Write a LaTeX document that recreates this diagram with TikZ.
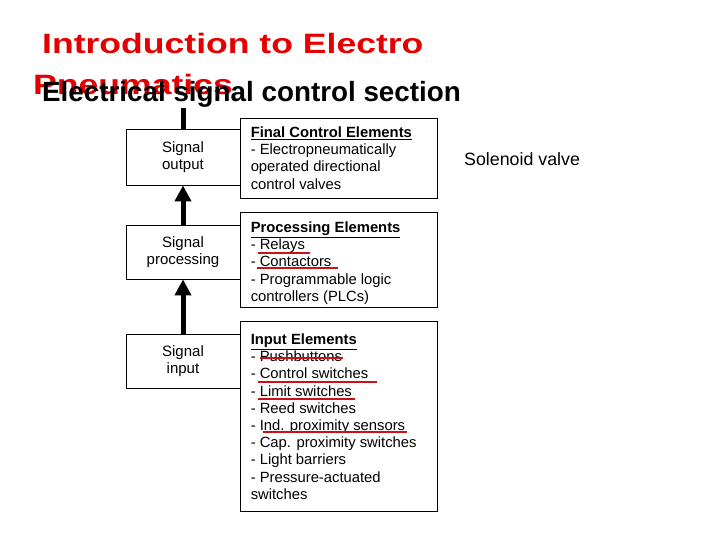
\documentclass[tikz,border=0pt]{standalone}
\usepackage{fontspec}
\setmainfont{Liberation Sans}
\usetikzlibrary{arrows.meta}
\definecolor{titlered}{RGB}{228,0,0}
\definecolor{markred}{RGB}{204,16,24}

\begin{document}
\begin{tikzpicture}[
	x=1pt, y=-1pt,
	sigbox/.style={
		draw,
		line width=0.9pt,
		minimum width=114pt,
		inner sep=0pt,
		align=center,
		font=\fontsize{15}{17.5}\selectfont
	},
	elembox/.style={
		draw,
		line width=0.9pt,
		minimum width=197pt,
		inner sep=0pt
	},
	itemlist/.style={
		anchor=north west,
		inner sep=0pt,
		align=left,
		font=\fontsize{14.8}{17.2}\selectfont
	},
	titletext/.style={
		anchor=base west,
		inner sep=0pt,
		text=titlered,
		font=\fontsize{28}{28}\selectfont\bfseries
	},
	flow/.style={line width=5pt, -{Triangle[width=16pt,length=16pt]}},
	redline/.style={markred, line width=2.6pt}
	]

	\useasboundingbox (0,0) rectangle (720,540);

	% Signal stages
	\node[sigbox, minimum height=56pt] (sigout) at (183,157) {Signal\\output\vphantom{g}};
	\node[sigbox, minimum height=54pt] (sigproc) at (183,252) {Signal\\processing};
	\node[sigbox, minimum height=54pt] (sigin) at (183,361) {Signal\\input};

	% Element groups
	\node[elembox, minimum height=80pt] (fce) at (338.5,158) {};
	\node[elembox, minimum height=95pt] (pe) at (338.5,259.5) {};
	\node[elembox, minimum height=190pt] (ie) at (338.5,416) {};

	\node[itemlist] (fcetxt) at ([shift={(11,9)}]fce.north west)
	{{\bfseries\underline{Final Control Elements}}\\
	- Electropneumatically\\operated directional\\control valves};
	\node[itemlist] (petxt) at ([shift={(11,10)}]pe.north west)
	{{\bfseries\underline{Processing Elements}}\\
	- Relays\\- Contactors\\- Programmable logic\\controllers (PLCs)};
	\node[itemlist] (ietxt) at ([shift={(11,13)}]ie.north west)
	{{\bfseries\underline{Input Elements}}\\
	- Pushbuttons\\- Control switches\\- Limit switches\\- Reed switches\\
	- Ind. proximity sensors\\- Cap. proximity switches\\- Light barriers\\
	- Pressure-actuated\\switches};

	% Signal flow
	\coordinate (topend) at (183,108);
	\draw[line width=5pt] (sigout.north) -- (topend);
	\draw[flow] (sigproc.north) -- (sigout.south);
	\draw[flow] (sigin.north) -- (sigproc.south);

	% Red marks
	\draw[redline] (258,253) -- (310,253);
	\draw[redline] (257,268) -- (338,268);
	\draw[redline] (260,358) -- (343,358);
	\draw[redline] (258,382) -- (377,382);
	\draw[redline] (258,399) -- (355,399);
	\draw[redline] (263,432) -- (407,432);

	% Titles
	\node[titletext] (title1) at (42,54) {\scalebox{1.27}[1]{Introduction to Electro}};
	\node[titletext] (title2) at (33,95) {\scalebox{1.27}[1]{Pneumatics}};
	\node[anchor=base west, inner sep=0pt, font=\fontsize{27.8}{28}\selectfont\bfseries]
	(heading) at (42,102) {Electrical signal control section};

	\node[anchor=base west, inner sep=0pt, font=\fontsize{17.8}{20}\selectfont]
	(valve) at (464,166) {Solenoid valve};

\end{tikzpicture}
\end{document}
